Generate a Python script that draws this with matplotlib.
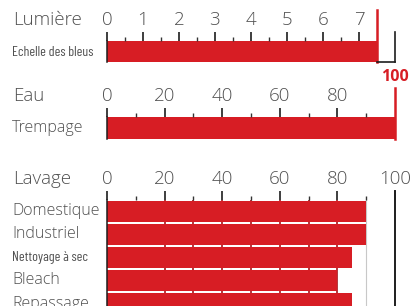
import matplotlib
matplotlib.use('Agg')
import matplotlib.pyplot as plt
import matplotlib.transforms as mtransforms
from matplotlib import font_manager
import numpy as np

# ------------------------------------------------ #
# data
# ------------------------------------------------ #
lumiere_title = 'Lumière'
lumiere_label = 'Echelle des bleus'
lumiere_value = 7.5
lumiere_max = 8
lumiere_ticks = [0, 1, 2, 3, 4, 5, 6, 7]

eau_title = 'Eau'
eau_label = 'Trempage'
eau_value = 100
eau_ticks = [0, 20, 40, 60, 80]

lavage_title = 'Lavage'
lavage_labels = ['Domestique', 'Industriel', 'Nettoyage à sec', 'Bleach', 'Repassage']
lavage_values = [90, 90, 85, 80, 85]
lavage_ticks = [0, 20, 40, 60, 80, 100]

# ------------------------------------------------ #
# style
# ------------------------------------------------ #
RED = '#d71d24'
TXT = '#505050'
DARK = '#1e1e1e'

installed = {f.name for f in font_manager.fontManager.ttflist}
MAIN = next((n for n in ['Open Sans', 'Lato', 'DejaVu Sans'] if n in installed), 'DejaVu Sans')
NARROW = next((n for n in ['Barlow Condensed', 'Archivo Narrow', 'Asap Condensed',
                           'Liberation Sans Narrow'] if n in installed), MAIN)

TITLE_SIZE, TICK_SIZE, CAT_SIZE = 13.5, 13.5, 11.5
NARROW_SIZE = 10.0 if NARROW == 'Barlow Condensed' else 9.0

plt.rcParams['font.family'] = [MAIN, 'DejaVu Sans']

W, H = 412, 306
fig = plt.figure(figsize=(W / 100, H / 100), dpi=100)
fig.patch.set_facecolor('white')

MAJ_LEN, MIN_LEN, PAD = 6.5, 3.2, 2.0


def px_box(x0, y0, x1, y1):
  return [x0 / W, 1 - y1 / H, (x1 - x0) / W, (y1 - y0) / H]


def style_axis(ax):
  for s in ['top', 'right', 'bottom']:
    ax.spines[s].set_visible(False)
  ax.spines['left'].set_color(DARK)
  ax.spines['left'].set_linewidth(1.1)
  ax.set_axisbelow(False)
  ax.tick_params(axis='x', which='both', top=True, bottom=False,
                 labeltop=True, labelbottom=False)
  ax.tick_params(axis='x', which='major', direction='out', length=MAJ_LEN, width=1.2,
                 color=DARK, pad=PAD, labelsize=TICK_SIZE, labelcolor=TXT)
  ax.tick_params(axis='x', which='minor', direction='out', length=MIN_LEN, width=1.0,
                 color='#333333')
  ax.set_yticks([])
  ax.set_facecolor('none')
  for lab in ax.xaxis.get_majorticklabels():
    lab.set_fontweight('light')


def add_title(ax, text):
  blend = mtransforms.blended_transform_factory(fig.transFigure, ax.transAxes)
  tr = mtransforms.offset_copy(blend, fig=fig, y=MAJ_LEN + PAD, units='points')
  ax.text(13 / W, 1, text, transform=tr, va='bottom', ha='left', fontsize=TITLE_SIZE,
          color=TXT, fontweight='light')


def add_label(ax, y, text, narrow=False):
  blend = mtransforms.blended_transform_factory(fig.transFigure, ax.transData)
  if narrow:
    ax.text(12 / W, y, text, transform=blend, va='center', ha='left', fontsize=NARROW_SIZE,
            color=TXT, family=[NARROW, 'DejaVu Sans'])
  else:
    ax.text(12 / W, y, text, transform=blend, va='center', ha='left', fontsize=CAT_SIZE,
            color=TXT, fontweight='light')


# ------------------------------------------------ #
# Lumière
# ------------------------------------------------ #
ax1 = fig.add_axes(px_box(107, 41, 395, 62))
ax1.set_xlim(0, lumiere_max)
ax1.set_ylim(0, 1)
ax1.barh(0.5, lumiere_value, height=1, left=0, color=RED, zorder=2)
ax1.set_xticks(lumiere_ticks)
ax1.set_xticks(np.arange(0.5, lumiere_ticks[-1], 1), minor=True)
style_axis(ax1)
xt = ax1.get_xaxis_transform()
ax1.plot([lumiere_value, lumiere_value], [0, (62 - 10) / 21], transform=xt, color=RED,
         lw=1.8, clip_on=False, zorder=3)
ax1.plot([lumiere_max, lumiere_max], [0, (62 - 32) / 21], transform=xt, color=DARK,
         lw=1.2, clip_on=False, zorder=3)
ax1.plot([lumiere_value, lumiere_max], [0, 0], transform=xt, color=DARK,
         lw=1.2, clip_on=False, zorder=3)
add_title(ax1, lumiere_title)
add_label(ax1, 0.45, lumiere_label, narrow=True)

# ------------------------------------------------ #
# Eau
# ------------------------------------------------ #
ax2 = fig.add_axes(px_box(107, 117, 395, 139))
ax2.set_xlim(0, 100)
ax2.set_ylim(0, 1)
ax2.barh(0.5, eau_value, height=1, left=0, color=RED, zorder=2)
ax2.set_xticks(eau_ticks)
ax2.set_xticks(np.arange(10, 100, 20), minor=True)
style_axis(ax2)
xt = ax2.get_xaxis_transform()
ax2.plot([eau_value, eau_value], [0, (139 - 88) / 22], transform=xt, color=RED,
         lw=1.8, clip_on=False, zorder=3)
ax2.text(eau_value, (139 - 77) / 22, str(eau_value), transform=xt, ha='center', va='center',
         color=RED, fontsize=11.5, fontweight='bold')
add_title(ax2, eau_title)
add_label(ax2, 0.5, eau_label)

# ------------------------------------------------ #
# Lavage
# ------------------------------------------------ #
n = len(lavage_labels)
ax3 = fig.add_axes(px_box(107, 200, 395, 200 + 23 * n))
ax3.set_xlim(0, 100)
ax3.set_ylim(n - 0.5, -0.5)
ypos = np.arange(n)
ax3.barh(ypos, lavage_values, height=0.92, left=0, color=RED, zorder=2)
ax3.set_xticks(lavage_ticks)
ax3.set_xticks(np.arange(10, 100, 20), minor=True)
style_axis(ax3)
ax3.vlines(np.arange(20, 81, 10), -0.5, n - 0.5, color='#a3161b', lw=1.2, zorder=1)
xt = ax3.get_xaxis_transform()
top = 1 + (MAJ_LEN * 100 / 72) / (23 * n)
ax3.plot([100, 100], [0, top], transform=xt, color=DARK, lw=1.4, clip_on=False, zorder=3)
ax3.plot([90, 90], [0, 1], transform=xt, color='#c8c8c8', lw=0.8, clip_on=False, zorder=1)
add_title(ax3, lavage_title)
for y, lab in zip(ypos, lavage_labels):
  add_label(ax3, y, lab, narrow=(lab == 'Nettoyage à sec'))

plt.savefig('out.png', dpi=100)
